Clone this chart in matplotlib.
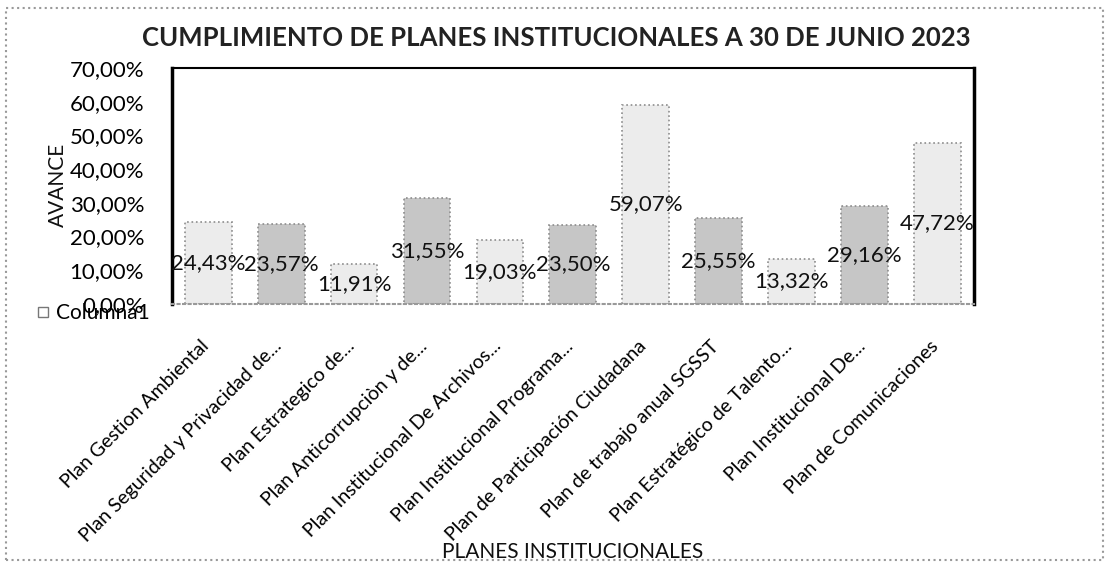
import matplotlib
matplotlib.use("Agg")
import matplotlib.pyplot as plt
from matplotlib.patches import Rectangle
from matplotlib.ticker import FuncFormatter
from matplotlib.lines import Line2D
from matplotlib.transforms import ScaledTranslation

plt.rcParams['font.family'] = ['Lato', 'DejaVu Sans']

categories = [
    "Plan Gestion Ambiental",
    "Plan Seguridad y Privacidad de...",
    "Plan Estrategico de...",
    "Plan Anticorrupciòn y de...",
    "Plan Institucional De Archivos...",
    "Plan Institucional Programa...",
    "Plan de Participación Ciudadana",
    "Plan de trabajo anual SGSST",
    "Plan Estratégico de Talento...",
    "Plan Institucional De...",
    "Plan de Comunicaciones",
]
values = [0.2443, 0.2357, 0.1191, 0.3155, 0.1903, 0.2350, 0.5907, 0.2555, 0.1332, 0.2916, 0.4772]
value_labels = ["24,43%", "23,57%", "11,91%", "31,55%", "19,03%", "23,50%",
                "59,07%", "25,55%", "13,32%", "29,16%", "47,72%"]
y_ticks = [0.0, 0.1, 0.2, 0.3, 0.4, 0.5, 0.6, 0.7]

title = "CUMPLIMIENTO DE PLANES INSTITUCIONALES A 30 DE JUNIO 2023"
x_title = "PLANES INSTITUCIONALES"
y_title = "AVANCE"
legend_label = "Columna1"

fig = plt.figure(figsize=(11.09, 5.66), dpi=100)
ax = fig.add_axes([0.155, 0.463, 0.723, 0.417])

light = "#ececec"
dark = "#c6c6c6"
colors = [light if i % 2 == 0 else dark for i in range(len(values))]
x = list(range(len(values)))
bars = ax.bar(x, values, width=0.64, color=colors, edgecolor="#8c8c8c",
              linestyle=":", linewidth=1.2)

for xi, v, lab in zip(x, values, value_labels):
    ax.text(xi, v / 2, lab, ha="center", va="center", fontsize=16, color="#111111")

ax.set_xlim(-0.5, len(values) - 0.5)
ax.set_ylim(0, 0.7)
ax.set_yticks(y_ticks)
ax.yaxis.set_major_formatter(FuncFormatter(lambda v, p: f"{v*100:.2f}%".replace(".", ",")))
ax.tick_params(axis="y", length=0, labelsize=16, pad=20)
ax.set_xticks(x)
ax.set_xticklabels(categories, rotation=45, ha="right", rotation_mode="anchor", fontsize=14)
ax.tick_params(axis="x", length=0, pad=24)
shift = ScaledTranslation(-8 / 100, 0, fig.dpi_scale_trans)
for lbl in ax.get_xticklabels():
    lbl.set_transform(lbl.get_transform() + shift)

for s in ["left", "right"]:
    ax.spines[s].set_linewidth(2.5)
    ax.spines[s].set_color("black")
ax.spines["top"].set_linewidth(1.5)
ax.spines["top"].set_color("black")
ax.spines["bottom"].set_color("#999999")
ax.spines["bottom"].set_linestyle(":")
ax.spines["bottom"].set_linewidth(1.5)

fig.text(0.502, 0.933, title, ha="center", va="center", fontsize=18.5, fontweight="bold",
         color="#222222")
fig.text(0.052, 0.673, y_title, ha="center", va="center", rotation=90, fontsize=15, color="#111111")
fig.text(0.516, 0.025, x_title, ha="center", va="center", fontsize=15, color="#111111")

handle = Line2D([], [], marker="s", linestyle="none", markersize=7,
                markerfacecolor="white", markeredgecolor="#777777")
fig.legend([handle], [legend_label], loc="center left", bbox_to_anchor=(0.022, 0.447),
           frameon=False, fontsize=15, handletextpad=0.1, handlelength=1.0, borderaxespad=0)

fig.patches.append(Rectangle((0.005, 0.01), 0.99, 0.975, transform=fig.transFigure,
                             fill=False, edgecolor="#999999", linestyle=":", linewidth=1.5))

fig.savefig("out.png", dpi=100)
